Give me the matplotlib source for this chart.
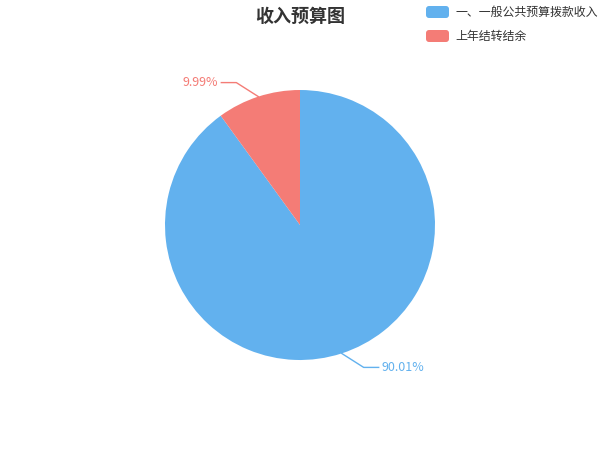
import numpy as np
import matplotlib
matplotlib.use("Agg")
import matplotlib.pyplot as plt
from matplotlib.patches import FancyBboxPatch

plt.rcParams['font.family'] = ['Noto Sans CJK SC', 'DejaVu Sans']

# data
categories = ['一、一般公共预算拨款收入', '上年结转结余']
values = [90.01, 9.99]
colors = ['#62b1ee', '#f47c76']
title = '收入预算图'

fig = plt.figure(figsize=(6, 4.5), dpi=100)
ax = fig.add_axes([0, 0, 1, 1])

cx, cy, r = 300, 225, 135
wedges, _ = ax.pie(values, colors=colors, startangle=90, counterclock=False,
                   center=(cx, cy), radius=r, frame=True,
                   wedgeprops=dict(linewidth=0))
ax.set_xlim(0, 600)
ax.set_ylim(0, 450)
ax.set_aspect('equal')
ax.axis('off')

# leader lines + labels
for w, v, c in zip(wedges, values, colors):
    mid = np.deg2rad((w.theta1 + w.theta2) / 2)
    x0, y0 = cx + r * np.cos(mid), cy + r * np.sin(mid)
    side = 1 if np.cos(mid) >= 0 else -1
    x1, y1 = x0 + side * 22, y0 + np.sign(np.sin(mid)) * 14
    x2 = x1 + side * 15
    ax.plot([x0, x1, x2], [y0, y1, y1], color=c, lw=1)
    ax.text(x2 + side * 3, y1, f'{v:.2f}%', color=c, fontsize=9,
            ha='left' if side > 0 else 'right', va='center')

ax.text(300, 434, title, ha='center', va='center', fontsize=13,
        fontweight='bold', color='#333333')

# legend
for i, (lab, c) in enumerate(zip(categories, colors)):
    py = 12 + i * 24
    ax.add_patch(FancyBboxPatch((426, 450 - py - 6), 23, 12,
                                boxstyle='round,pad=0,rounding_size=3',
                                fc=c, ec='none'))
    ax.text(455, 450 - py, lab, fontsize=8.6, va='center', ha='left',
            color='#333333')

fig.savefig('out.png', dpi=100)
